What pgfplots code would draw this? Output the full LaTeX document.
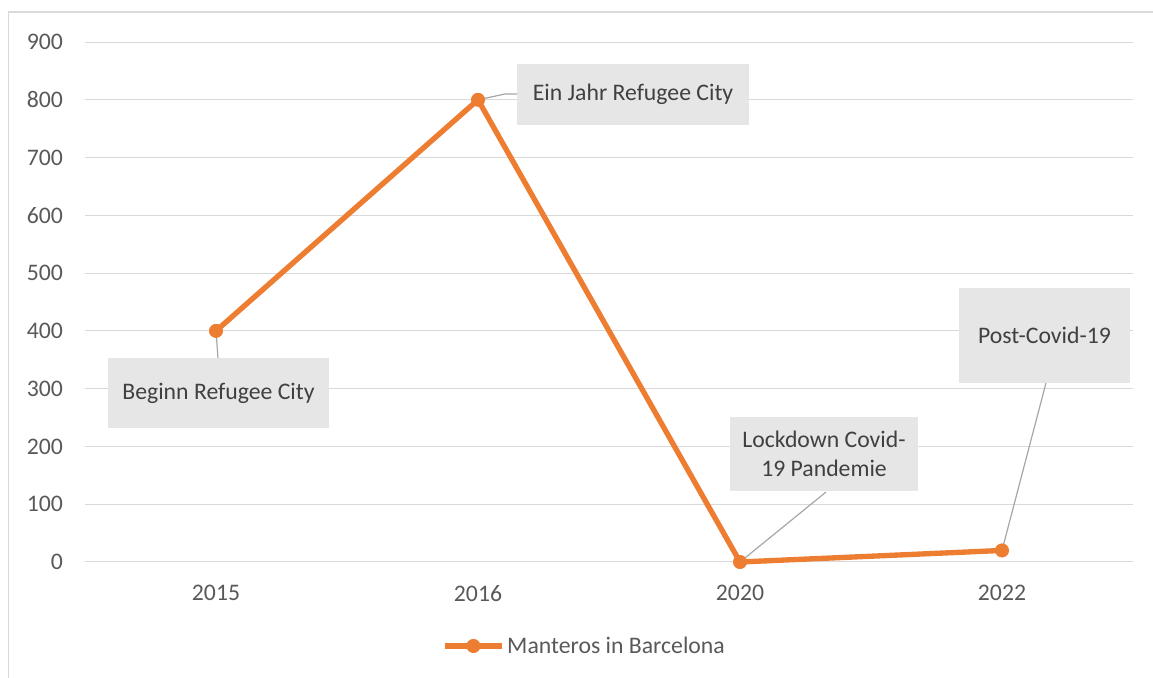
\documentclass[border=0pt]{standalone}
\usepackage{fontspec}
\setmainfont{Carlito}
\usepackage{pgfplots}
\pgfplotsset{compat=1.18}
\definecolor{myorange}{HTML}{ED7D31}
\definecolor{gridgray}{HTML}{D9D9D9}
\definecolor{txtgray}{HTML}{595959}
\definecolor{boxgray}{HTML}{E6E6E6}
\definecolor{boxtxt}{HTML}{404040}
\definecolor{leadgray}{HTML}{A6A6A6}
\begin{document}
\begin{tikzpicture}[font=\fontsize{17.8}{22}\selectfont]
\useasboundingbox (0,0) rectangle (864.75pt,508.5pt);
\draw[gridgray, line width=1.2pt] (6.4pt,-5pt) -- (6.4pt,499.5pt) -- (880pt,499.5pt);
\begin{axis}[
  at={(63.75pt,87pt)}, anchor=south west,
  scale only axis, width=786pt, height=390pt,
  xmin=-0.5, xmax=3.5, ymin=0, ymax=900,
  xtick={0,1,2,3}, xticklabels={2015,2016,2020,2022},
  ytick={0,100,...,900},
  ymajorgrids, grid style={gridgray, line width=0.75pt},
  axis line style={draw=none}, tick style={draw=none},
  tick label style={text=txtgray, font=\fontsize{17.8}{22}\selectfont},
  /pgf/number format/assume math mode=true,
  yticklabel style={xshift=-13pt},
  xticklabel style={yshift=-14pt},
  clip=false,
  legend style={at={(0.477,-0.1615)}, anchor=center, draw=none, fill=none,
    font=\fontsize{17.8}{22}\selectfont, text=txtgray},
  legend image code/.code={\draw[#1,mark repeat=2,mark phase=2] plot coordinates {(0cm,0cm) (0.75cm,0cm) (1.5cm,0cm)};},
]
\addplot[myorange, line width=4pt, line join=round, mark=*, mark size=5pt, mark options={solid, line width=0.5pt}]
  coordinates {(0,400) (1,800) (2,0) (3,20)};
\addlegendentry{Manteros in Barcelona}
% leader lines
\draw[leadgray, line width=0.9pt] (axis cs:0,400) -- (axis cs:0.0076,353);
\draw[leadgray, line width=0.9pt] (axis cs:1,800) -- (axis cs:1.103,810) -- (axis cs:1.149,810);
\draw[leadgray, line width=0.9pt] (axis cs:2,0) -- (axis cs:2.328,121);
\draw[leadgray, line width=0.9pt] (axis cs:3,20) -- (axis cs:3.168,310);
% callouts
\node[fill=boxgray, text=boxtxt, inner sep=0pt, minimum width=165.75pt, minimum height=52.5pt, align=center] at (axis cs:0.0095,292.5) {Beginn Refugee City};
\node[fill=boxgray, text=boxtxt, inner sep=0pt, minimum width=174pt, minimum height=45.75pt, align=center] at (axis cs:1.5916,809) {Ein Jahr Refugee City};
\node[fill=boxgray, text=boxtxt, inner sep=0pt, minimum width=141pt, minimum height=55.5pt, align=center] at (axis cs:2.3206,187) {Lockdown Covid-\\19 Pandemie};
\node[fill=boxgray, text=boxtxt, inner sep=0pt, minimum width=128.25pt, minimum height=71.25pt, align=center] at (axis cs:3.1622,392) {Post-Covid-19};
\end{axis}
\end{tikzpicture}
\end{document}
